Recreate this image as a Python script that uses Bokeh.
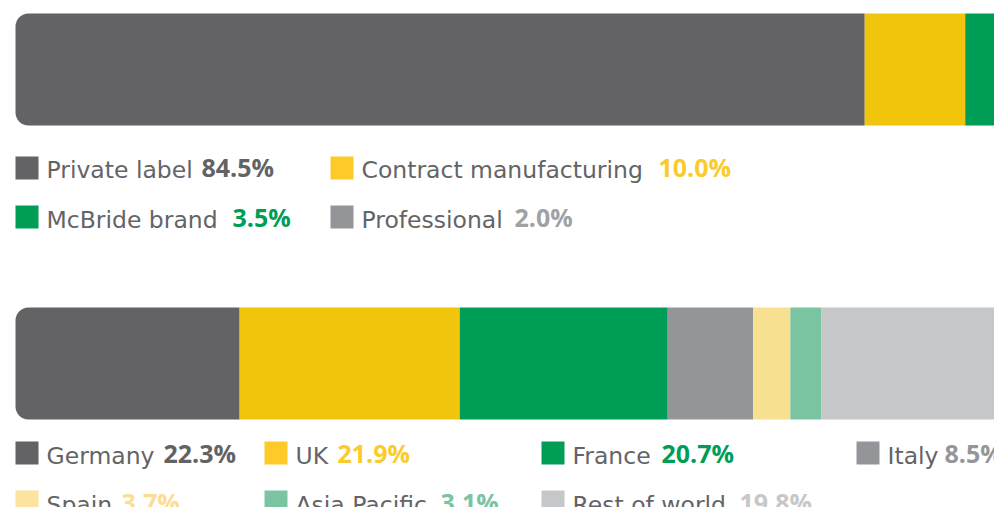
from bokeh.plotting import figure
from bokeh.models import Range1d, ColumnDataSource
from bokeh.core.properties import value
from bokeh.embed import file_html
from bokeh.resources import INLINE
import numpy as np

# ---- data ----
cat_labels = ["Private label", "Contract manufacturing", "McBride brand", "Professional"]
cat_values = [84.5, 10.0, 3.5, 2.0]
cat_colors = ["#636365", "#F0C50C", "#009D57", "#949598"]
cat_legend_colors = ["#636365", "#FCCB2A", "#009D57", "#949598"]
cat_value_colors = ["#636365", "#FCCB2A", "#009D57", "#A0A1A3"]

geo_labels = ["Germany", "UK", "France", "Italy", "Spain", "Asia Pacific", "Rest of world"]
geo_values = [22.3, 21.9, 20.7, 8.5, 3.7, 3.1, 19.8]
geo_colors = ["#636365", "#F0C50C", "#009D57", "#949598", "#F7E08F", "#7BC4A2", "#C6C7C9"]
geo_legend_colors = ["#636365", "#FCCB2A", "#009D57", "#949598", "#FDE3A0", "#7BC4A2", "#C6C7C9"]
geo_value_colors = ["#636365", "#FCCB2A", "#009D57", "#949598", "#FDDC95", "#7BC4A2", "#C6C7C9"]

# ---- layout (pixels within figure) ----
W, H = 994, 507
px_per_pct = 10.05
x0 = 15
LABEL_COLOR = "#646466"
FONT = "DejaVu Sans"
VFONT = "Open Sans"
FS = "23.5px"
VFS = "25px"
DY = -9    # baseline correction, labels
VDY = -12  # baseline correction, values

p = figure(width=W, height=H, output_backend="svg", toolbar_location=None,
           x_range=Range1d(-x0 / px_per_pct, (W - x0) / px_per_pct),
           y_range=Range1d(H, 0), x_axis_type=None, y_axis_type=None,
           min_border=0, outline_line_color=None)
p.xgrid.visible = False
p.ygrid.visible = False
p.extra_x_ranges = {"px": Range1d(0, W)}
p.background_fill_color = "white"
p.border_fill_color = "white"


def stacked_bar(vals, colors, top, bottom):
    right = np.cumsum(vals)
    left = right - np.array(vals)
    src = ColumnDataSource(dict(left=left[1:], right=right[1:],
                                color=colors[1:]))
    p.quad(left=left[0], right=right[0], top=top, bottom=bottom,
           fill_color=colors[0], line_color=None, border_radius=(13, 0, 0, 13))
    p.quad(left="left", right="right", top=top, bottom=bottom, source=src,
           fill_color="color", line_color=None)


stacked_bar(cat_values, cat_colors, 13, 125)
stacked_bar(geo_values, geo_colors, 307, 419)


def legend(labels, vals, sq_colors, val_colors, sq_x, rows, val_x):
    for lab, v, sc, vc, sx, (sq_top, base), vx in zip(labels, vals, sq_colors, val_colors, sq_x, rows, val_x):
        p.quad(left=sx, right=sx + 23, top=sq_top, bottom=sq_top + 23,
               fill_color=sc, line_color=None, x_range_name="px")
        p.text(x=[sx + 31], y=[base + DY], text=[lab], text_color=LABEL_COLOR,
               text_font=value(FONT), text_font_size=FS, text_baseline="alphabetic",
               x_range_name="px")
        p.text(x=[vx], y=[base + VDY], text=[f"{v:.1f}%"], text_color=vc,
               text_font=value(VFONT), text_font_size=VFS, text_font_style="bold",
               text_baseline="alphabetic", x_range_name="px")


r1 = (156, 178)
r2 = (205, 228)
legend(cat_labels, cat_values, cat_legend_colors, cat_value_colors,
       [15, 330, 15, 330], [r1, r1, r2, r2], [201, 658, 232, 514])

g1 = (441, 464)
g2 = (490, 513)
legend(geo_labels, geo_values, geo_legend_colors, geo_value_colors,
       [15, 264, 541, 856, 15, 264, 541],
       [g1, g1, g1, g1, g2, g2, g2],
       [163, 337, 661, 944, 121, 440, 739])

open("out.html", "w").write(file_html(p, INLINE))
